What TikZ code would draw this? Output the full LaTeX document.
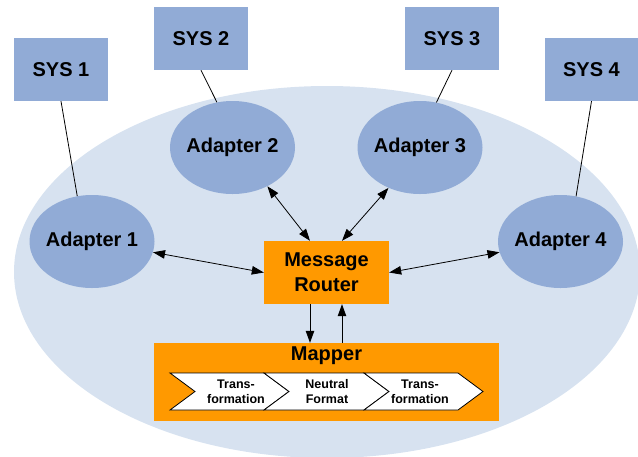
\documentclass[tikz,border=0pt]{standalone}
\usepackage{fontspec}
\setmainfont{Liberation Sans}
\usetikzlibrary{arrows.meta,shapes.geometric}
\definecolor{sysblue}{RGB}{145,171,214}
\definecolor{bgblue}{RGB}{215,226,240}
\definecolor{orng}{RGB}{255,153,0}
\tikzset{
  sysbox/.style={fill=sysblue, minimum width=94pt, minimum height=63pt, inner sep=0pt, font=\fontsize{20}{24}\selectfont\bfseries},
  adapter/.style={ellipse, fill=sysblue, minimum width=125pt, minimum height=93pt, inner sep=0pt, font=\fontsize{20}{24}\selectfont\bfseries},
  orangebox/.style={fill=orng, inner sep=0pt},
  bigfont/.style={font=\fontsize{20}{25}\selectfont\bfseries, align=center},
  chevtext/.style={font=\fontsize{12.5}{15}\selectfont\bfseries, align=center, inner sep=0pt},
  chev/.style={fill=white, draw=black, line width=0.8pt, line join=miter},
  link/.style={draw=black, line width=0.8pt},
  biarrow/.style={link, {Triangle[length=12pt,width=8.5pt]}-{Triangle[length=12pt,width=8.5pt]}},
  onearrow/.style={link, -{Triangle[length=12pt,width=8.5pt]}}
}
\begin{document}
\begin{tikzpicture}[x=1pt,y=-1pt]
\useasboundingbox (0,0) rectangle (638,456);
\fill[bgblue] (327,272) ellipse [x radius=313pt, y radius=186pt];
% systems
\node[sysbox] (s1) at (61,69.5) {SYS 1};
\node[sysbox] (s2) at (201,38.5) {SYS 2};
\node[sysbox] (s3) at (452,38.5) {SYS 3};
\node[sysbox] (s4) at (591.5,69.5) {SYS 4};
% adapters
\node[adapter] (a1) at (92,241.5) {\makebox[0pt]{Adapter 1}};
\node[adapter] (a2) at (232.5,147.5) {\makebox[0pt]{Adapter 2}};
\node[adapter] (a3) at (420,147.5) {\makebox[0pt]{Adapter 3}};
\node[adapter] (a4) at (560.5,241.5) {\makebox[0pt]{Adapter 4}};
% router
\node[orangebox, minimum width=125pt, minimum height=63pt] (r) at (326.5,272.5) {};
\node[bigfont] (rl) at (326.5,272.5) {Message\\Router};
% mapper
\node[orangebox, minimum width=345pt, minimum height=78pt] (m) at (326.5,382) {};
\node[bigfont, inner sep=0pt] (ml) at (326.5,356) {Mapper};
% chevrons
\path[chev] (170,373) -- (264,373) -- (289,391.5) -- (264,410) -- (170,410) -- (195,391.5) -- cycle;
\path[chev] (264,373) -- (364,373) -- (389,391.5) -- (364,410) -- (264,410) -- (289,391.5) -- cycle;
\path[chev] (364,373) -- (458,373) -- (483,391.5) -- (458,410) -- (364,410) -- (389,391.5) -- cycle;
\node[chevtext] (c1) at (236,391.5) {Trans-\\formation};
\node[chevtext] (c2) at (327,391.5) {Neutral\\Format};
\node[chevtext] (c3) at (420,391.5) {Trans-\\formation};
% system links
\draw[link] (s1.south) -- (a1.108);
\draw[link] (s2.south) -- (a2.109);
\draw[link] (s3.south) -- (a3.70);
\draw[link] (s4.south) -- (a4.71);
% router arrows
\draw[biarrow] (a1.-10) -- (r.west);
\draw[biarrow] (a4.190) -- (r.east);
\draw[biarrow] (a2.-48) -- ([xshift=-16.5pt]r.north);
\draw[biarrow] (a3.-128) -- ([xshift=15.5pt]r.north);
\draw[onearrow] ([xshift=-16.5pt]r.south) -- ([xshift=-16.5pt]r.south |- m.north);
\draw[onearrow] ([xshift=15.5pt]r.south |- m.north) -- ([xshift=15.5pt]r.south);
\end{tikzpicture}
\end{document}
